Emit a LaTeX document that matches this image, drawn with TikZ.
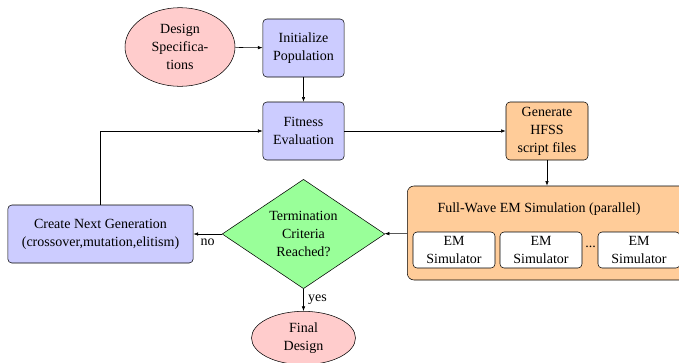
\documentclass[tikz,border=0pt]{standalone}
\usepackage{fontspec}
\setmainfont{Liberation Serif}
\newfontfamily\timesfont{Liberation Serif}
\usetikzlibrary{positioning,shapes.geometric,arrows.meta}
\tikzset{
        startstop/.style={draw, ellipse, fill=red!20, inner sep=0pt, align=center},
        process/.style={draw, rectangle, rounded corners=3pt, fill=blue!20, minimum width=61pt, minimum height=43.5pt, align=center},
        hfss/.style={draw, rectangle, rounded corners=3pt, fill=orange!40, minimum width=61.5pt, minimum height=43.5pt, align=center},
        simbox/.style={draw, rectangle, rounded corners=3pt, fill=white, minimum width=61.5pt, minimum height=27pt, inner sep=1pt, align=center},
        decision/.style={draw, diamond, aspect=1.5, fill=green!40, inner sep=0pt, minimum width=122pt, minimum height=82pt, align=center},
        arrow/.style={-{Latex[length=3.5pt,width=2.6pt]}, thin},
    }

\begin{document}
\begin{tikzpicture}[x=0.75pt, y=-0.75pt, font=\timesfont\fontsize{10.5}{13.5}\selectfont]
        \useasboundingbox (0,0) rectangle (679,362);

        % Top row
        \node[startstop, minimum width=82.5pt, minimum height=59pt] (spec) at (180,47) {Design\\Specifica-\\tions};
        \node[process] (init) at (303.5,48) {Initialize\\Population};

        % Middle row
        \node[process] (fit) at (303.5,131) {Fitness\\Evaluation};
        \node[hfss] (gen) at (547,131) {Generate\\HFSS\\script files};

        % Parallel EM simulation block
        \node[draw, rectangle, rounded corners=5pt, fill=orange!40, minimum width=211pt, minimum height=70.5pt] (full) at (548,233) {};
        \node (fulltitle) at (539,209) {Full-Wave EM Simulation (parallel)};
        \node[simbox] (sim1) at (454,250) {EM\\Simulator};
        \node[simbox] (sim2) at (541,250) {EM\\Simulator};
        \node[simbox] (sim3) at (639,250) {EM\\Simulator};
        \node (dots) at (590.5,247) {...};

        % Decision and loop
        \node[decision] (term) at (303.5,234) {Termination\\Criteria\\Reached?};
        \node[process, minimum width=139pt] (create) at (100.5,234) {Create Next Generation\\(crossover,mutation,elitism)};
        \node[startstop, minimum width=78pt, minimum height=40pt] (final) at (303.5,338) {Final\\Design};

        % Connections
        \draw[arrow] (spec) -- (init);
        \draw[arrow] (init) -- (fit);
        \draw[arrow] (fit) -- (gen);
        \draw[arrow] (gen) -- (gen |- full.north);
        \draw[arrow] (full) -- (term);
        \draw[arrow] (term) -- node[below] {no} (create);
        \draw[arrow] (term) -- node[right] {yes} (final);
        \draw[arrow] (create) |- (fit);

    \end{tikzpicture}
\end{document}
